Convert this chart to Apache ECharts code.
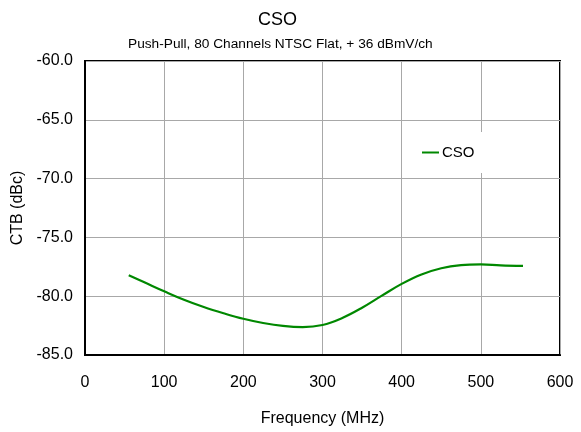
<!DOCTYPE html>
<html>
<head>
<meta charset="utf-8">
<script src="https://cdn.jsdelivr.net/npm/echarts@6/dist/echarts.min.js"></script>
<style>
html,body{margin:0;padding:0;background:#fff;}
#chart{width:581px;height:432px;}
</style>
</head>
<body>
<div id="chart"></div>
<script>
var titleText = 'CSO';
var subtitleText = 'Push-Pull, 80 Channels NTSC Flat, + 36 dBmV/ch';
var seriesName = 'CSO';
var xAxisName = 'Frequency (MHz)';
var yAxisName = 'CTB (dBc)';
var frequencies = [55.25, 75, 100, 125, 150, 175, 200, 225, 250, 275, 300, 325, 350, 375, 400, 425, 450, 475, 500, 525, 553.25];
var csoValues = [-78.22, -78.82, -79.58, -80.30, -80.92, -81.45, -81.92, -82.28, -82.53, -82.63, -82.45, -81.85, -80.98, -79.95, -78.95, -78.15, -77.62, -77.36, -77.30, -77.38, -77.42];

var FONT = "'Liberation Sans', Arial, sans-serif";
var chart = echarts.init(document.getElementById('chart'));
var pts = frequencies.map(function (f, i) { return [f, csoValues[i]]; });
chart.setOption({
  animation: false,
  backgroundColor: '#fff',
  title: [
    { text: titleText, left: 253, top: 6, textStyle: { fontFamily: FONT, fontSize: 18, fontWeight: 'normal', color: '#000' } },
    { text: subtitleText, left: 123, top: 32, textStyle: { fontFamily: FONT, fontSize: 13.7, fontWeight: 'normal', color: '#000' } }
  ],
  legend: {
    data: [{ name: seriesName, icon: 'rect' }],
    left: 412, top: 132,
    padding: [13, 10],
    backgroundColor: '#fff',
    itemWidth: 17, itemHeight: 2,
    itemGap: 5,
    textStyle: { fontFamily: FONT, fontSize: 15, color: '#000', padding: [0, 0, 0, -2] }
  },
  grid: { left: 85, right: 21, top: 61, bottom: 74, show: true, borderColor: '#000', borderWidth: 2, containLabel: false },
  xAxis: {
    type: 'value', min: 0, max: 600, interval: 100,
    name: xAxisName, nameLocation: 'middle', nameGap: 56,
    nameTextStyle: { fontFamily: FONT, fontSize: 16, color: '#000' },
    axisLine: { show: true, lineStyle: { color: '#000', width: 2 } },
    axisTick: { show: false },
    axisLabel: { fontFamily: FONT, fontSize: 16, color: '#000', margin: 20 },
    splitLine: { show: true, lineStyle: { color: '#a8a8a8', width: 1 } }
  },
  yAxis: {
    type: 'value', min: -85, max: -60, interval: 5,
    name: yAxisName, nameLocation: 'middle', nameGap: 54, nameRotate: 90,
    nameTextStyle: { fontFamily: FONT, fontSize: 16, color: '#000' },
    axisLine: { show: true, lineStyle: { color: '#000', width: 2 } },
    axisTick: { show: false },
    axisLabel: { fontFamily: FONT, fontSize: 16, color: '#000', margin: 12, formatter: function (v) { return v.toFixed(1); } },
    splitLine: { show: true, lineStyle: { color: '#a8a8a8', width: 1 } }
  },
  series: [{
    name: seriesName, type: 'line', data: pts, smooth: 0.4,
    showSymbol: false, symbol: 'none',
    lineStyle: { color: '#008800', width: 2.2 },
    itemStyle: { color: '#008800' }
  }]
});
</script>
</body>
</html>
